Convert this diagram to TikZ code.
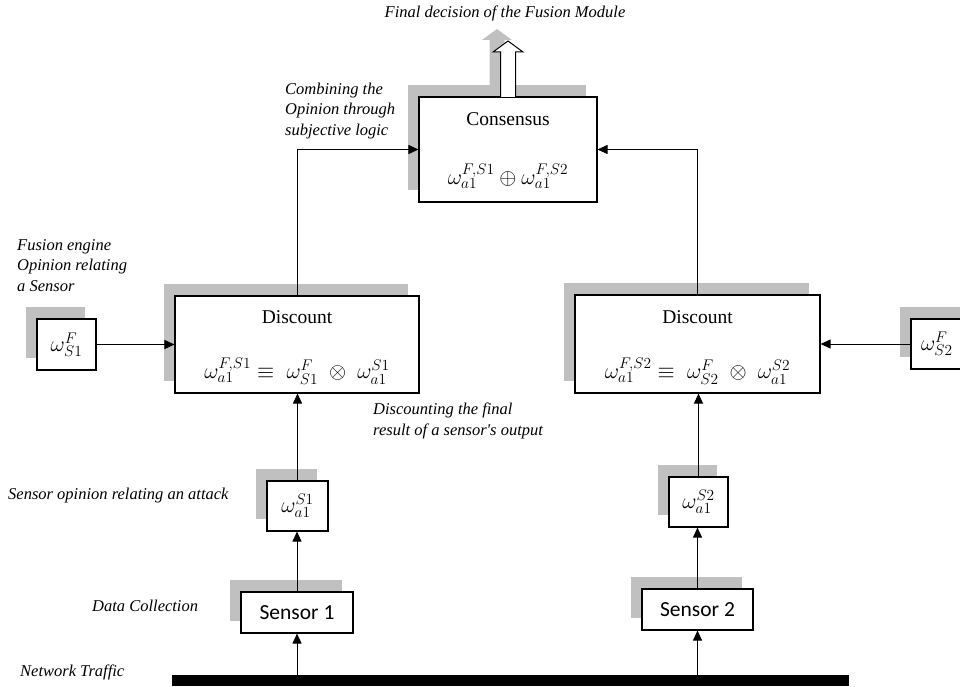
\RequirePackage{fix-cm}
\documentclass[tikz,border=0pt]{standalone}
\usepackage{fontspec}
\setmainfont{Liberation Serif}
\newfontfamily\labelfont{Liberation Serif}
\newfontfamily\calibfont{Carlito}
\usetikzlibrary{arrows.meta,shadows,calc}
\definecolor{shadowgray}{RGB}{192,192,192}

\begin{document}
\begin{tikzpicture}[x=1pt,y=-1pt,
  block/.style={draw, line width=1.1pt, fill=white, inner sep=0pt,
    drop shadow={shadow xshift=-11pt, shadow yshift=12pt, fill=shadowgray, draw=none, opacity=1}},
  conn/.style={line width=1pt, -{Triangle[length=10pt,width=9pt]}},
  note/.style={font=\fontsize{16.5}{20.5}\selectfont\labelfont\itshape, inner sep=0pt, align=left, anchor=west},
  title/.style={font=\fontsize{19.5}{22}\selectfont\labelfont, inner sep=0pt},
  formula/.style={font=\fontsize{22}{24}\selectfont, inner sep=0pt},
  sensorbox/.style={block, font=\fontsize{21.5}{24}\selectfont\calibfont}]
\useasboundingbox (0,0) rectangle (960,687);
\clip (0,0) rectangle (960,687);

% fusion stage
\node[block, minimum width=178pt, minimum height=105pt] (cons) at (508,149.5) {};
\node[title] (constitle) at (508,119) {Consensus};
\node[formula] (consmath) at (508,176) {$\omega_{a1}^{F,S1}\oplus\omega_{a1}^{F,S2}$};

% output arrow of the fusion module (with its shadow)
\fill[shadowgray] (489.5,85) -- (489.5,40) -- (482,40) -- (497,29) -- (512,40) -- (504.5,40) -- (504.5,85) -- cycle;
\draw[line width=1pt, fill=white] (500.5,97) -- (500.5,52) -- (493,52) -- (508,41) -- (523,52) -- (515.5,52) -- (515.5,97);

% discount stages
\node[block, minimum width=244pt, minimum height=97pt] (d1) at (297,344.5) {};
\node[title] (d1title) at (297,317) {Discount};
\node[formula] (d1math) at (297,371) {$\omega_{a1}^{F,S1}\equiv\;\omega_{S1}^{F}\;\otimes\;\omega_{a1}^{S1}$};

\node[block, minimum width=245pt, minimum height=98pt] (d2) at (697.5,344) {};
\node[title] (d2title) at (697.5,317) {Discount};
\node[formula] (d2math) at (697.5,371) {$\omega_{a1}^{F,S2}\equiv\;\omega_{S2}^{F}\;\otimes\;\omega_{a1}^{S2}$};

% fusion engine opinions
\node[block, formula, minimum width=59pt, minimum height=51pt] (wf1) at (66.5,344.5) {$\omega_{S1}^{F}$};
\node[block, formula, minimum width=60pt, minimum height=50pt, text width=40pt, align=left] (wf2) at (941,344) {$\omega_{S2}^{F}$};

% sensor opinions
\node[block, formula, minimum width=61pt, minimum height=50pt] (ws1) at (297.5,506) {$\omega_{a1}^{S1}$};
\node[block, formula, minimum width=59pt, minimum height=50pt] (ws2) at (698.5,502) {$\omega_{a1}^{S2}$};

% sensors
\node[sensorbox, minimum width=112pt, minimum height=41pt] (s1) at (297,612.5) {Sensor 1};
\node[sensorbox, minimum width=111pt, minimum height=41pt] (s2) at (697.5,609.5) {Sensor 2};

% network traffic line
\node[fill=black, inner sep=0pt, minimum width=677pt, minimum height=11pt] (bar) at (510.5,680.5) {};

% connectors
\draw[conn] (s1.south |- bar.north) -- (s1.south);
\draw[conn] (s2.south |- bar.north) -- (s2.south);
\draw[conn] (s1.north) -- (s1.north |- ws1.south);
\draw[conn] (s2.north) -- (s2.north |- ws2.south);
\draw[conn] (ws1.north) -- (ws1.north |- d1.south);
\draw[conn] (ws2.north) -- (ws2.north |- d2.south);
\draw[conn] (wf1.east) -- (wf1.east -| d1.west);
\draw[conn] (wf2.west) -- (wf2.west -| d2.east);
\draw[conn] (d1.north) |- (cons.west);
\draw[conn] (d2.north) |- (cons.east);

% annotations
\node[note, anchor=center] (lfinal) at (505,13) {Final decision of the Fusion Module};
\node[note] (lcomb) at (285,111) {Combining the\\Opinion through\\subjective logic};
\node[note] (lengine) at (17,265.5) {Fusion engine\\Opinion relating\\a Sensor};
\node[note] (ldisc) at (373,421) {Discounting the final\\result of a sensor's output};
\node[note] (lsens) at (8,496) {Sensor opinion relating an attack};
\node[note] (ldata) at (92,606) {Data Collection};
\node[note] (lnet) at (20,672) {Network Traffic};
\end{tikzpicture}
\end{document}
